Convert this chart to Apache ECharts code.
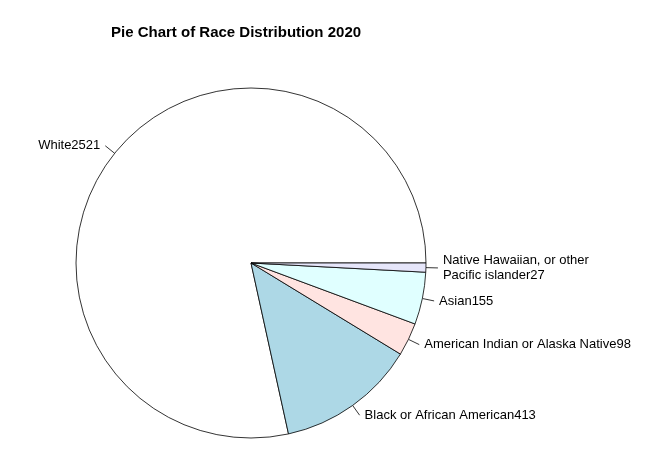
<!DOCTYPE html>
<html>
<head>
<meta charset="utf-8">
<script src="https://cdn.jsdelivr.net/npm/echarts@6/dist/echarts.min.js"></script>
<style>
  html, body { margin: 0; padding: 0; background: #fff; }
  #main { width: 669px; height: 471px; }
</style>
</head>
<body>
<div id="main"></div>
<script>
// race categories and counts, 2020
var races = ['White', 'Black or African American', 'American Indian or Alaska Native', 'Asian', 'Native Hawaiian, or other\nPacific islander'];
var counts = [2521, 413, 98, 155, 27];
var colors = ['#ffffff', '#add8e6', '#ffe4e1', '#e0ffff', '#e6e6fa'];

var chart = echarts.init(document.getElementById('main'));

var data = races.map(function (r, i) {
    return { name: r, value: counts[i], itemStyle: { color: colors[i] } };
});

chart.setOption({
    animation: false,
    title: {
        text: 'Pie Chart of Race Distribution 2020',
        left: 106,
        top: 20,
        textStyle: { fontFamily: 'Liberation Sans', fontSize: 15, fontWeight: 'bold', color: '#000' }
    },
    series: [{
        type: 'pie',
        center: [251, 263],
        radius: 175,
        startAngle: 0,
        clockwise: false,
        avoidLabelOverlap: false,
        itemStyle: { borderColor: '#000', borderWidth: 0.8 },
        label: {
            formatter: function (p) { return p.name + p.value; },
            fontFamily: 'Liberation Sans',
            fontSize: 13,
            color: '#000',
            lineHeight: 15
        },
        labelLine: { length: 12, length2: 0, lineStyle: { color: '#000', width: 0.8 } },
        emphasis: { disabled: true },
        data: data
    }]
});
</script>
</body>
</html>
